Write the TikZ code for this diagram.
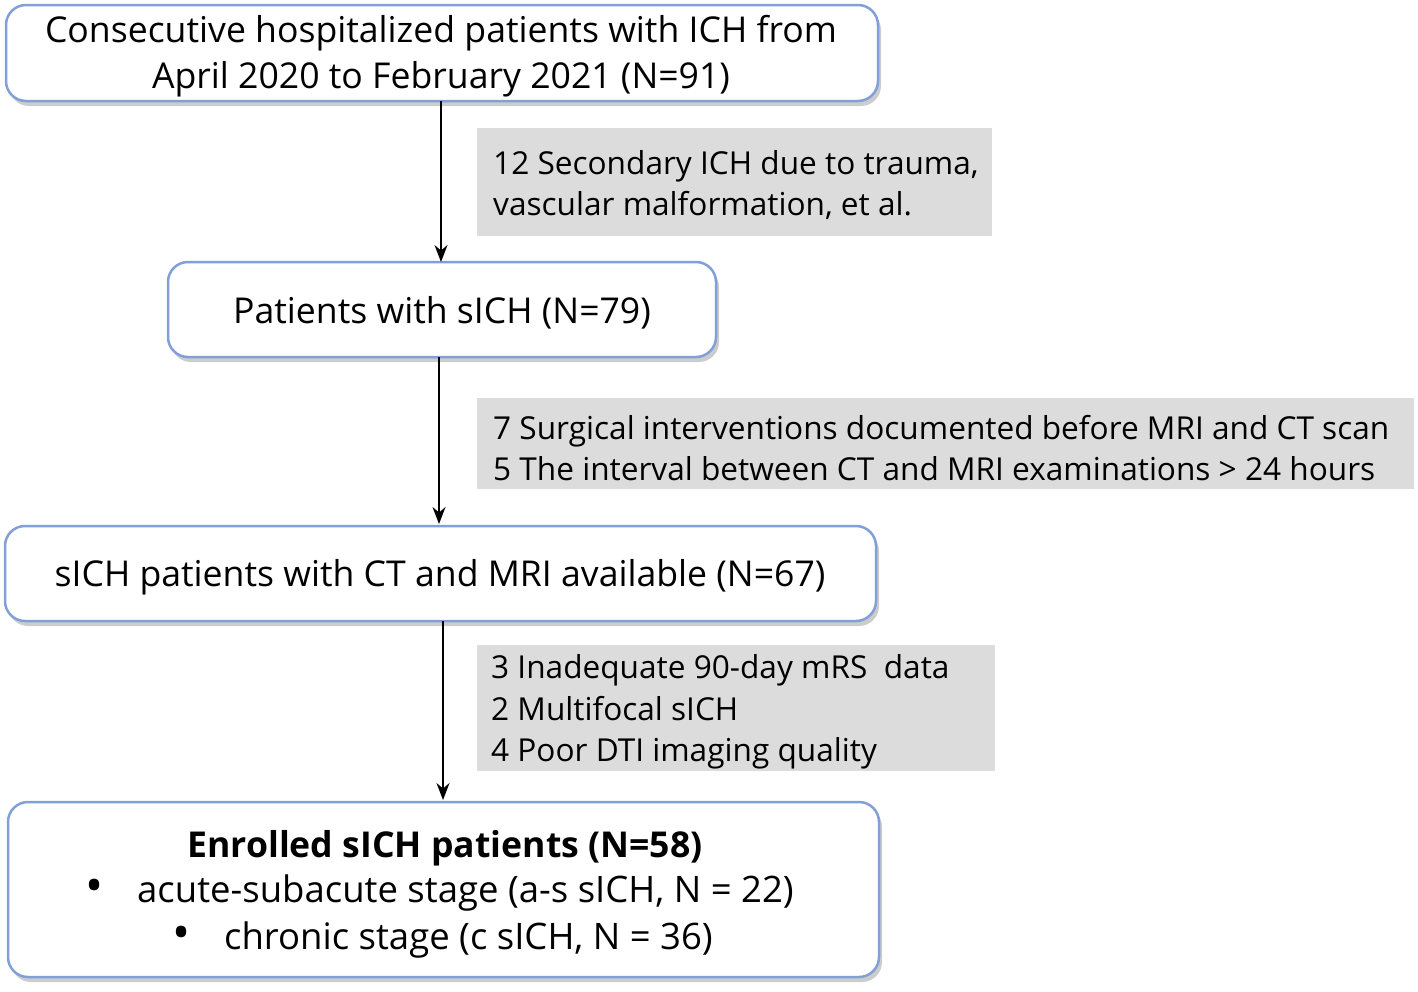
\documentclass[tikz,border=0pt]{standalone}
\usepackage{fontspec}
\setmainfont{Open Sans}
\usetikzlibrary{shadows,arrows.meta}
\definecolor{boxblue}{RGB}{130,160,215}
\definecolor{boxgray}{RGB}{220,220,220}
\begin{document}
\begin{tikzpicture}[x=1pt,y=-1pt,
  mainbox/.style={draw=boxblue,line width=2.5pt,rounded corners=20pt,fill=white,
    drop shadow={shadow xshift=3pt,shadow yshift=-5pt,opacity=0.4,fill=gray}},
  graybox/.style={fill=boxgray,draw=none},
  txt/.style={font=\fontsize{35.6}{46}\selectfont,inner sep=0pt},
  gtxt/.style={font=\fontsize{31.6}{41.5}\selectfont,inner sep=0pt,anchor=west,align=left},
  arr/.style={-{Stealth[length=17pt,width=13pt]},line width=1.5pt}]
\useasboundingbox (0,0) rectangle (1418,991);
% main boxes
\draw[mainbox] (6,5) rectangle (878,101);
\draw[mainbox] (168,262) rectangle (716,357);
\draw[mainbox] (5,526) rectangle (876,621);
\draw[mainbox] (8,802) rectangle (879,977);
\node[txt,align=center] (b1) at (441,56) {Consecutive hospitalized patients with ICH from\\April 2020 to February 2021 (N=91)};
\node[txt] (b2) at (442,313) {Patients with sICH (N=79)};
\node[txt] (b3) at (440,577) {sICH patients with CT and MRI available (N=67)};
\node[txt,font=\fontsize{35.6}{46}\bfseries\selectfont] (b4) at (445,848) {Enrolled sICH patients (N=58)};
\node[txt,font=\fontsize{48}{46}\selectfont] (b4a) at (95,891) {\textbullet};
\node[txt,anchor=west,font=\fontsize{36.5}{46}\selectfont] (b4b) at (137,893) {acute-subacute stage (a-s sICH, N = 22)};
\node[txt,font=\fontsize{48}{46}\selectfont] (b4c) at (182,938) {\textbullet};
\node[txt,anchor=west,font=\fontsize{36.5}{46}\selectfont] (b4d) at (224,940) {chronic stage (c sICH, N = 36)};
% gray boxes
\fill[graybox] (477,128) rectangle (992,236);
\fill[graybox] (477,398) rectangle (1414,489);
\fill[graybox] (477,645) rectangle (995,771);
\node[gtxt] (g1) at (493,185) {12 Secondary ICH due to trauma,\\vascular malformation, et al.};
\node[gtxt] (g2) at (493,448) {7 Surgical interventions documented before MRI and CT scan\\5 The interval between CT and MRI examinations > 24 hours};
\node[gtxt] (g3) at (491,712) {3 Inadequate 90-day mRS~ data\\2 Multifocal sICH\\4 Poor DTI imaging quality};
% arrows
\coordinate (a1s) at (441,101); \coordinate (a1e) at (441,262);
\coordinate (a2s) at (439,357); \coordinate (a2e) at (439,524);
\coordinate (a3s) at (443,621); \coordinate (a3e) at (443,800);
\draw[arr] (a1s) -- (a1e);
\draw[arr] (a2s) -- (a2e);
\draw[arr] (a3s) -- (a3e);
\end{tikzpicture}
\end{document}
